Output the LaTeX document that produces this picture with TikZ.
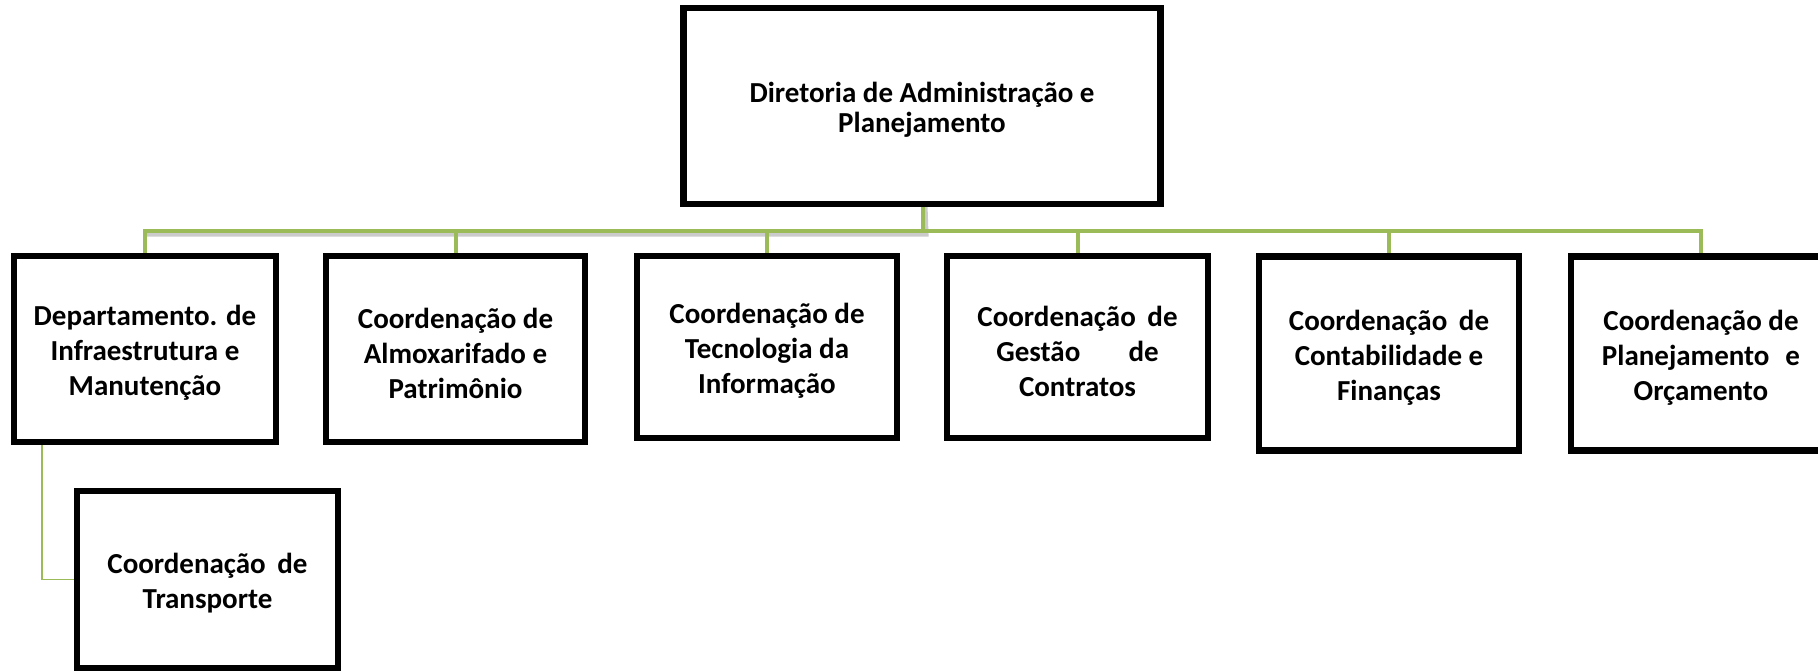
\documentclass[tikz,border=0pt]{standalone}
\usepackage{fontspec}
\setmainfont{Carlito}
\definecolor{olive}{HTML}{9BBB59}
\tikzset{
  x=0.5pt, y=-0.5pt,
  box/.style={draw=black, line width=2.2pt, rectangle, fill=white, inner sep=0pt},
  txt/.style={align=center, inner sep=0pt, yshift=-2pt,
    font=\fontsize{14.5pt}{17.5pt}\selectfont\bfseries},
  toptxt/.style={txt, font=\fontsize{14.5pt}{14.8pt}\selectfont\bfseries},
  bus/.style={draw=olive, line width=2pt},
  busshadow/.style={draw=black!45, line width=2.5pt, opacity=0.45},
  thinlink/.style={draw=olive, line width=0.9pt},
}
\begin{document}
\begin{tikzpicture}
\clip (0,0) rectangle (1818,670);
\fill[white] (0,0) rectangle (1818,670);
\coordinate (j) at (923,231);
\coordinate (tc) at (42,581);
% nodes
\node[box, minimum width=237.5pt, minimum height=97pt,
  label={[toptxt]center:{Diretoria de Administração e\\Planejamento}}] (top) at (922,106) {};
\node[box, minimum width=130pt, minimum height=92pt,
  label={[txt]center:{Departamento. de\\Infraestrutura e\\Manutenção}}] (b1) at (145,349) {};
\node[box, minimum width=128.5pt, minimum height=92pt,
  label={[txt]center:{Coordenação de\\Almoxarifado e\\Patrimônio}}] (b2) at (455.5,349) {};
\node[box, minimum width=129pt, minimum height=90pt,
  label={[txt]center:{Coordenação de\\Tecnologia da\\Informação}}] (b3) at (767,347) {};
\node[box, minimum width=129.5pt, minimum height=90pt,
  label={[txt]center:{Coordenação\hspace{0.4em}de\\Gestão\hspace{1.66em}de\\Contratos}}] (b4) at (1077.5,347) {};
\node[box, minimum width=129pt, minimum height=96pt,
  label={[txt]center:{Coordenação\hspace{0.4em}de\\Contabilidade e\\Finanças}}] (b5) at (1389,353.5) {};
\node[box, minimum width=129pt, minimum height=96pt,
  label={[txt]center:{Coordenação de\\Planejamento\hspace{0.55em}e\\Orçamento}}] (b6) at (1701,353.5) {};
\node[box, minimum width=129.5pt, minimum height=87.5pt,
  label={[txt]center:{Coordenação\hspace{0.4em}de\\Transporte}}] (t) at (207.5,579.5) {};
% shadow of the left part of the bus
\draw[busshadow] ([xshift=1.5pt]top.south) -- ([xshift=1.5pt,yshift=-1.5pt]j) -- ([yshift=-1.5pt]b1.north |- j);
% bus
\draw[bus] (top.south -| j) -- (j);
\draw[bus] (b1.north) -- (b1.north |- j) -- (b6.north |- j) -- (b6.north);
\foreach \n in {b2,b3,b4,b5} \draw[bus] (\n.north) -- (\n.north |- j);
% link to transport
\draw[thinlink] (b1.south -| tc) |- (t.west);
% redraw box borders on top of links
\foreach \n in {top,b1,b2,b3,b4,b5,b6,t} \draw[line width=2.2pt] (\n.north west) rectangle (\n.south east);
\end{tikzpicture}
\end{document}
